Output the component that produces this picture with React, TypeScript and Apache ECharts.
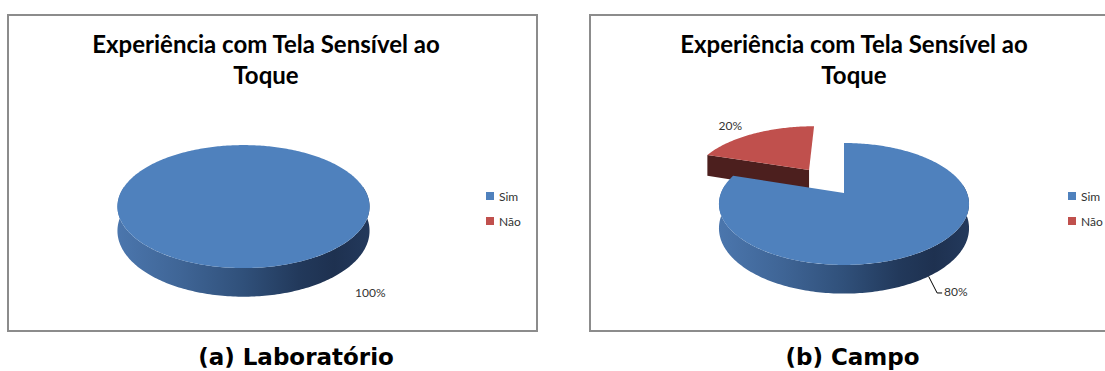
import React, { useEffect, useRef } from "react";
import * as echarts from "echarts";

// Answers per category for each setting (percent of participants)
const categories = ["Sim", "Não"];
const labValues = [100, 0];
const fieldValues = [80, 20];
const labExploded = [false, false];
const fieldExploded = [false, true];

const chartTitle = "Experiência com Tela Sensível ao\nToque";
const captions = ["(a) Laboratório", "(b) Campo"];

// Colours
const TOP_COLORS = ["#4f81bd", "#c0504d"];
const CUT_COLORS = ["#2a4468", "#4c1f1e"];
const SIDE_STOPS = [
  [
    { offset: 0, color: "#4b76ad" },
    { offset: 0.25, color: "#3f6596" },
    { offset: 0.5, color: "#30507a" },
    { offset: 0.72, color: "#22395b" },
    { offset: 0.86, color: "#1e3150" },
    { offset: 1, color: "#23395c" },
  ],
  [
    { offset: 0, color: "#7a2f2d" },
    { offset: 1, color: "#4a1d1c" },
  ],
];

// Projection of the tilted pie: a circle seen from the front with a little perspective
const PERSPECTIVE = 0.18;

type PieLayout = {
  cx: number;
  cy: number;
  rx: number;
  ry: number;
  depth: number;
  explode: number;
  labelOffsets: number[][];
  leaders: boolean[];
};

const labLayout: PieLayout = {
  cx: 243.5,
  cy: 195.5,
  rx: 124,
  ry: 59.5,
  depth: 23.5,
  explode: 0.52,
  labelOffsets: [[111.5, -4.5], [0, 0]],
  leaders: [false, false],
};

const fieldLayout: PieLayout = {
  cx: 844,
  cy: 193,
  rx: 123,
  ry: 59,
  depth: 23.5,
  explode: 0.52,
  labelOffsets: [[15.5, 15.6], [-12, -8.5]],
  leaders: [true, false],
};

const sum = (a: number[]) => a.reduce((s, x) => s + x, 0);

function buildSlice(values: number[], exploded: boolean[], layout: PieLayout, i: number): any {
  const total = sum(values);
  const v = values[i];
  if (!v || !total) return { type: "group", children: [] };
  const before = sum(values.slice(0, i));
  const a1 = (before / total) * Math.PI * 2;
  const a2 = ((before + v) / total) * Math.PI * 2;
  const mid = (a1 + a2) / 2;
  const full = v >= total;
  const ou = exploded[i] ? layout.explode * Math.sin(mid) : 0;
  const ov = exploded[i] ? layout.explode * Math.cos(mid) : 0;

  const proj = (u: number, w: number, h: number): number[] => {
    const s = 1 / (1 + PERSPECTIVE * w);
    return [layout.cx + layout.rx * u * s, layout.cy - layout.ry * w * s + h * layout.depth * s];
  };
  const arc = (from: number, to: number, h: number) => {
    const steps = Math.max(2, Math.ceil((to - from) / (Math.PI / 180)));
    const pts: number[][] = [];
    for (let k = 0; k <= steps; k++) {
      const t = from + ((to - from) * k) / steps;
      pts.push(proj(ou + Math.sin(t), ov + Math.cos(t), h));
    }
    return pts;
  };
  const topArc = arc(a1, a2, 0);
  const children: any[] = [];

  // outer wall, only over the part that faces the viewer
  const w1 = Math.max(a1, Math.PI / 2 - 0.15);
  const w2 = Math.min(a2, (Math.PI * 3) / 2 + 0.15);
  if (w2 > w1) {
    const wallTop = arc(w1, w2, 0);
    const wallBot = arc(w1, w2, 1);
    children.push({
      type: "polygon",
      shape: { points: wallTop.concat(wallBot.slice().reverse()) },
      style: {
        fill: { type: "linear", x: 0, y: 0, x2: 1, y2: 0, colorStops: SIDE_STOPS[i] },
      },
    });
  }

  // radial cut walls facing the viewer
  if (!full) {
    const edge = (t: number) => [
      proj(ou, ov, 0),
      proj(ou + Math.sin(t), ov + Math.cos(t), 0),
      proj(ou + Math.sin(t), ov + Math.cos(t), 1),
      proj(ou, ov, 1),
    ];
    if (Math.sin(a1) < -1e-6) {
      children.push({ type: "polygon", shape: { points: edge(a1) }, style: { fill: CUT_COLORS[i] } });
    }
    if (Math.sin(a2) > 1e-6) {
      children.push({ type: "polygon", shape: { points: edge(a2) }, style: { fill: CUT_COLORS[i] } });
    }
  }

  // top face
  children.push({
    type: "polygon",
    shape: { points: full ? topArc : [proj(ou, ov, 0)].concat(topArc) },
    style: { fill: TOP_COLORS[i] },
  });

  // data label
  const front = Math.cos(mid) < 0;
  const anchor = proj(ou + Math.sin(mid), ov + Math.cos(mid), front ? 1 : 0);
  const [dx, dy] = layout.labelOffsets[i];
  const tx = anchor[0] + dx;
  const ty = anchor[1] + dy;
  if (layout.leaders[i]) {
    children.push({
      type: "polyline",
      shape: { points: [anchor, [tx - 7, ty + 1], [tx - 2, ty + 1]] },
      style: { stroke: "#000", lineWidth: 1, fill: null },
    });
  }
  children.push({
    type: "text",
    x: tx,
    y: ty,
    style: {
      text: Math.round((v / total) * 100) + "%",
      fill: "#333",
      font: "12px Lato",
      align: dx < 0 ? "right" : "left",
      verticalAlign: "middle",
    },
  });
  return { type: "group", children };
}

function pieSeries(values: number[], exploded: boolean[], layout: PieLayout): any[] {
  const total = sum(values);
  // draw slices lying further back first
  const order = values
    .map((v, i) => {
      const before = sum(values.slice(0, i));
      const mid = ((before + v / 2) / (total || 1)) * Math.PI * 2;
      return { i, back: Math.cos(mid) };
    })
    .sort((a, b) => b.back - a.back)
    .map((o) => o.i);
  return order.map((i) => ({
    type: "custom",
    name: categories[i],
    coordinateSystem: "none",
    silent: true,
    itemStyle: { color: TOP_COLORS[i] },
    data: [[values[i]]],
    renderItem: () => buildSlice(values, exploded, layout, i),
  }));
}

const titleStyle = {
  fontFamily: "Lato",
  fontWeight: "bold",
  fontSize: 24,
  lineHeight: 31,
  color: "#000",
};

const legendBase = {
  orient: "vertical",
  top: 190,
  padding: 0,
  itemWidth: 8,
  itemHeight: 8,
  itemGap: 13,
  icon: "rect",
  selectedMode: false,
  data: categories,
  textStyle: { fontFamily: "Lato", fontSize: 12, color: "#333" },
};

const captionFont = 'bold 23px "DejaVu Sans"';

export default function App() {
  const ref = useRef<HTMLDivElement>(null);
  useEffect(() => {
    if (!ref.current) return;
    const chart = echarts.init(ref.current, null, { renderer: "svg" });
    chart.setOption({
      animation: false,
      backgroundColor: "#fff",
      title: [
        { text: chartTitle, left: 266, top: 28, textAlign: "center", padding: 0, textStyle: titleStyle },
        { text: chartTitle, left: 854, top: 28, textAlign: "center", padding: 0, textStyle: titleStyle },
      ],
      legend: [
        { ...legendBase, left: 486 },
        { ...legendBase, left: 1068 },
      ],
      graphic: [
        { type: "rect", shape: { x: 8, y: 15, width: 529, height: 316 }, style: { fill: "none", stroke: "#8c8c8c", lineWidth: 2 } },
        { type: "rect", shape: { x: 590, y: 15, width: 600, height: 316 }, style: { fill: "none", stroke: "#8c8c8c", lineWidth: 2 } },
        {
          type: "text",
          x: 296,
          y: 357,
          style: { text: captions[0], font: captionFont, fill: "#000", align: "center", verticalAlign: "middle" },
        },
        {
          type: "text",
          x: 852.5,
          y: 357,
          style: { text: captions[1], font: captionFont, fill: "#000", align: "center", verticalAlign: "middle" },
        },
      ],
      series: [
        ...pieSeries(labValues, labExploded, labLayout),
        ...pieSeries(fieldValues, fieldExploded, fieldLayout),
      ],
    });
    return () => chart.dispose();
  }, []);
  return <div ref={ref} style={{ position: "absolute", left: 0, top: 0, width: 1105, height: 371 }} />;
}
